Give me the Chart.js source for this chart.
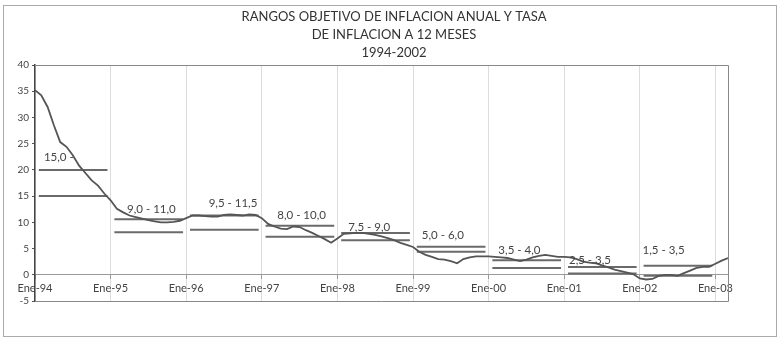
<!DOCTYPE html>
<html><head><meta charset="utf-8">
<script src="https://cdn.jsdelivr.net/npm/chart.js@4"></script>
<style>html,body{margin:0;padding:0;background:#fff}</style>
</head><body>
<canvas id="c" width="783" height="340"></canvas>
<script>
// ---- data ----
const titleLines = ['RANGOS OBJETIVO DE INFLACION ANUAL Y TASA', 'DE INFLACION A 12 MESES', '1994-2002'];
const xTickLabels = ['Ene-94','Ene-95','Ene-96','Ene-97','Ene-98','Ene-99','Ene-00','Ene-01','Ene-02','Ene-03'];
// 12-month inflation, monthly from Jan 1994
const inflation = [
  35.2,34.2,32.0,28.5,25.3,24.4,22.8,20.8,19.4,18.0,17.0,15.5,
  14.2,12.6,11.9,11.3,11.0,10.7,10.4,10.2,10.0,10.0,10.1,10.3,
  10.8,11.3,11.3,11.2,11.1,11.1,11.4,11.5,11.4,11.3,11.5,11.4,
  10.8,9.7,9.2,8.8,8.7,9.2,9.1,8.5,8.0,7.4,6.8,6.1,
  6.9,7.8,7.9,8.0,8.0,7.8,7.6,7.3,7.0,6.6,6.1,5.7,
  5.3,4.4,3.8,3.4,3.0,2.9,2.6,2.2,3.0,3.3,3.5,3.5,
  3.5,3.4,3.3,3.2,2.9,2.6,2.9,3.3,3.6,3.8,3.6,3.4,
  3.4,3.3,3.0,2.5,2.3,2.2,1.8,1.4,1.0,0.7,0.4,0.1,
  -0.7,-0.9,-0.8,-0.2,0.0,0.0,-0.2,0.3,0.8,1.3,1.5,1.5,
  2.1,2.7,3.2
];
const targetYears = [1994,1995,1996,1997,1998,1999,2000,2001,2002];
const targetUpper = [20.0,10.6,11.3,9.35,7.95,5.35,2.75,1.5,1.7];
const targetLower = [15.0,8.1,8.6,7.25,6.6,4.4,1.3,0.25,-0.2];
const targetText = ['15,0 -','9,0 - 11,0','9,5 - 11,5','8,0 - 10,0','7,5 - 9,0','5,0 - 6,0','3,5 - 4,0','2,5 - 3,5','1,5 - 3,5'];

// ---- style / placement ----
const FONT = 'Lato, "Liberation Sans", sans-serif';
const segStart = 0.6, segEnd = 11.5;
const labelNudge = [[-14,-3],[3,0],[9,-2],[2,0],[-6,4],[-8,-1],[-7,0],[-12,3],[-14,-6]];

const datasets = [{
  data: inflation.map((v, i) => ({x: i, y: v})),
  borderColor: '#555', borderWidth: 1.8, pointRadius: 0, tension: 0, order: 0
}];
targetYears.forEach((yr, i) => {
  const base = (yr - targetYears[0]) * 12;
  [targetUpper[i], targetLower[i]].forEach(v => {
    datasets.push({
      data: [{x: base + segStart, y: v}, {x: base + segEnd, y: v}],
      borderColor: '#6a6a6a', borderWidth: 2, pointRadius: 0, order: 1
    });
  });
});

const framePlugin = {
  id: 'frames',
  beforeDraw(chart) {
    const ctx = chart.ctx;
    ctx.save();
    ctx.fillStyle = '#fff';
    ctx.fillRect(0, 0, chart.width, chart.height);
    ctx.strokeStyle = '#aaa'; ctx.lineWidth = 1;
    ctx.strokeRect(3.5, 5.5, 773, 331);
    // title
    ctx.fillStyle = '#333';
    ctx.font = '13px ' + FONT;
    ctx.textAlign = 'center'; ctx.textBaseline = 'middle';
    titleLines.forEach((t, i) => ctx.fillText(t, 394, 17 + i * 18));
    ctx.restore();
  },
  afterDraw(chart) {
    const {ctx, chartArea: a} = chart;
    ctx.save();
    ctx.strokeStyle = '#888'; ctx.lineWidth = 1;
    ctx.beginPath();
    ctx.moveTo(a.left, a.top + 0.5); ctx.lineTo(a.right + 0.5, a.top + 0.5);
    ctx.lineTo(a.right + 0.5, a.bottom + 0.5); ctx.lineTo(a.left, a.bottom + 0.5);
    ctx.stroke();
    ctx.restore();
  }
};
const labelPlugin = {
  id: 'targetLabels',
  afterDatasetsDraw(chart) {
    const {ctx, scales: {x, y}} = chart;
    ctx.save();
    ctx.font = '11.5px ' + FONT;
    ctx.fillStyle = '#444';
    ctx.textAlign = 'center'; ctx.textBaseline = 'middle';
    targetYears.forEach((yr, i) => {
      const px = x.getPixelForValue((yr - targetYears[0]) * 12 + 6) + labelNudge[i][0];
      const py = y.getPixelForValue(targetUpper[i]) - 10 + labelNudge[i][1];
      ctx.fillText(targetText[i], px, py);
    });
    ctx.restore();
  }
};

new Chart(document.getElementById('c'), {
  type: 'line',
  data: {datasets},
  plugins: [framePlugin, labelPlugin],
  options: {
    responsive: false, animation: false, devicePixelRatio: 1,
    layout: {padding: {left: 4, right: 55, bottom: 39, top: 65}},
    plugins: {
      legend: {display: false}, tooltip: {enabled: false}, title: {display: false}
    },
    scales: {
      x: {
        type: 'linear', min: 0, max: 110, position: {y: 0},
        ticks: {
          stepSize: 12, includeBounds: false, autoSkip: false, maxRotation: 0,
          callback: v => xTickLabels[v / 12] ?? '',
          font: {family: FONT, size: 11}, color: '#444', padding: 3
        },
        grid: {color: '#dcdcdc', lineWidth: 1, tickLength: 4, tickColor: '#999'},
        border: {display: true, color: '#999', width: 1}
      },
      y: {
        min: -5, max: 40,
        ticks: {stepSize: 5, font: {family: FONT, size: 10}, color: '#444', padding: 3},
        grid: {drawOnChartArea: false, tickLength: 3, color: '#555'},
        border: {color: '#444', width: 1.5},
        afterFit: s => { s.width = 31; }
      }
    }
  }
});
</script>
</body></html>
